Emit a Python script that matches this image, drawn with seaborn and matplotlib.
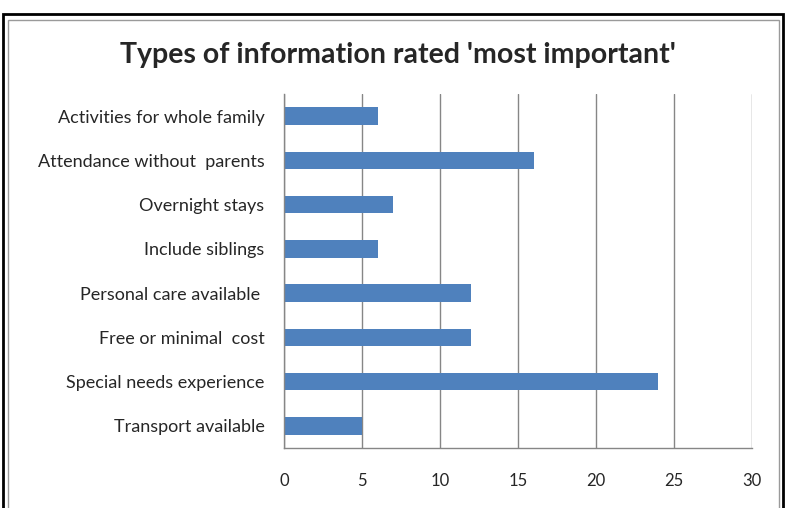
import matplotlib
matplotlib.use("Agg")
import matplotlib.pyplot as plt
import seaborn as sns
import pandas as pd
import numpy as np
from matplotlib.patches import Rectangle

categories = [
    "Activities for whole family",
    "Attendance without  parents",
    "Overnight stays",
    "Include siblings",
    "Personal care available ",
    "Free or minimal  cost",
    "Special needs experience",
    "Transport available",
]
values = [6, 16, 7, 6, 12, 12, 24, 5]
xticks = [0, 5, 10, 15, 20, 25, 30]
title = "Types of information rated 'most important'"

sns.set_style("white")
plt.rcParams["font.family"] = ["Lato", "DejaVu Sans"]

df = pd.DataFrame({"cat": categories, "val": values})

fig = plt.figure(figsize=(7.86, 5.08), dpi=100)
ax = fig.add_axes([284 / 786, 1 - 448 / 508, (752 - 284) / 786, (448 - 94) / 508])

sns.barplot(data=df, x="val", y="cat", color="#4F81BD", saturation=1,
            width=0.4, orient="h", ax=ax, zorder=3, linewidth=0)

ax.set_xlim(0, 30)
ax.set_ylim(len(categories) - 0.5, -0.5)
ax.set_xticks(xticks)
ax.set_xticklabels([str(t) for t in xticks], fontsize=12)
ax.set_xlabel("")
ax.set_ylabel("")
ax.tick_params(axis="y", labelsize=13, length=0, pad=14)
ax.set_yticks(np.arange(len(categories) + 1) - 0.5, minor=True)
ax.tick_params(axis="y", which="minor", length=5, color="#868686", width=1)
ax.tick_params(axis="x", length=5, color="#868686", width=1, pad=13, direction="out")
ax.grid(axis="x", color="#868686", linewidth=1, zorder=0)
ax.set_axisbelow(True)
for side in ["top", "right"]:
    ax.spines[side].set_visible(False)
for side in ["left", "bottom"]:
    ax.spines[side].set_color("#868686")
    ax.spines[side].set_linewidth(1)
ax.spines["left"].set_zorder(4)

fig.text(398 / 786, 1 - 55 / 508, title, ha="center", va="center",
         fontsize=20.5, fontweight="bold")

# outer borders
fig.patches.append(Rectangle((3 / 786, -0.1), 780 / 786, 1.1 - 14 / 508,
                             transform=fig.transFigure, fill=False,
                             edgecolor="black", linewidth=2))
fig.patches.append(Rectangle((8 / 786, -0.1), 771 / 786, 1.1 - 20 / 508,
                             transform=fig.transFigure, fill=False,
                             edgecolor="#9a9a9a", linewidth=1))

fig.savefig("out.png", dpi=100)
